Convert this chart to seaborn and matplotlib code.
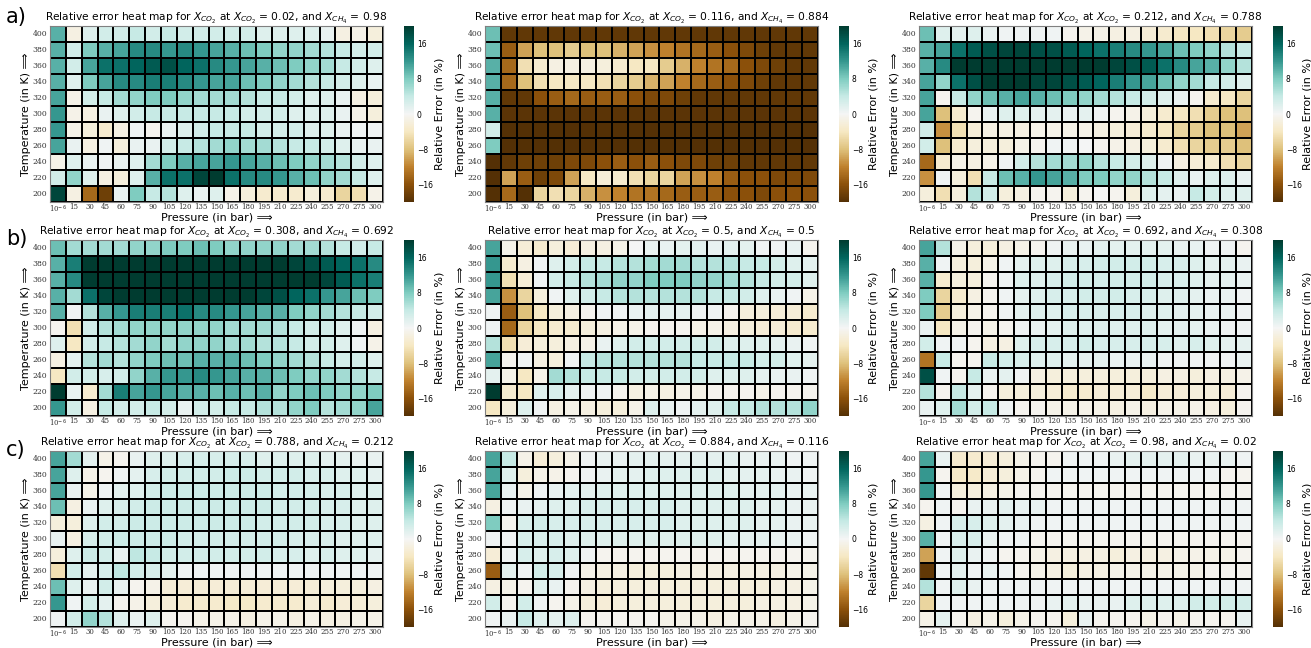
import numpy as np
import pandas as pd
import seaborn as sns
import matplotlib.pyplot as plt

# axes of every heat map
temps = [400, 380, 360, 340, 320, 300, 280, 260, 240, 220, 200]
pressures = ['10$^{-6}$', '15', '30', '45', '60', '75', '90', '105', '120', '135', '150',
             '165', '180', '195', '210', '225', '240', '255', '270', '275', '300']
x_co2 = ['0.02', '0.116', '0.212', '0.308', '0.5', '0.692', '0.788', '0.884', '0.98']
x_ch4 = ['0.98', '0.884', '0.788', '0.692', '0.5', '0.308', '0.212', '0.116', '0.02']

# relative error (%), rows 400 K -> 200 K
err_002 = [
    [10, -1.5, 2, 3, 3, 4, 3, 4, 3, 3, 3, 3, 3, 2, 2, 2, 2, 1, -1.5, -1, -2],
    [10, 3, 8, 10, 11, 13, 13, 12, 13, 12, 11, 10, 9, 8, 7, 7, 6, 5, 4, 3, 3],
    [10, 3, 11, 15, 15, 16, 17, 18, 16, 15, 13, 12, 11, 10, 9, 8, 7, 6, 4, 3, 2],
    [10, 2, 8, 11, 13, 13, 14, 14, 13, 12, 11, 11, 9, 8, 7, 6, 5, 4, 3, 2, 1],
    [11, -1, 3, 4, 6, 7, 8, 8, 7, 6, 6, 6, 5, 4, 4, 3, 2, 2, 1, -1.5, -2],
    [12, -1, -1.5, 1, 2, 3, 4, 4, 4, 4, 4, 4, 3, 3, 3, 2, 2, 2, 1, -1, -2],
    [12, -1, -2, -3, -1.5, 0.5, -0.5, 1, 2, 3, 4, 4, 4, 3, 3, 3, 2, 2, 1, 0.5, 0.5],
    [11, 1, -1.5, 0.5, -2, 1, 1, 3, 4, 5, 6, 7, 6, 6, 5, 4, 4, 3, 2, 1, 1],
    [-1, 2, 1, 0.5, 1, 2, 6, 8, 10, 11, 11, 12, 11, 10, 9, 8, 7, 6, 5, 3, 2],
    [3, 7, 2, -1.5, -2, 2, 10, 15, 15, 19, 20, 15, 13, 13, 12, 10, 9, 7, 6, 4, 2],
    [19, -1.5, -14, -18, 1, 8, 4, 5, 2, 1, 2, -1, -2, -3, -3, -3, -2, -3, -6, -5, -1],
]
err_0116 = [
    [9, -19, -19, -19, -19, -19, -19, -19, -19, -19, -19, -19, -19, -19, -19, -19, -19, -19, -19, -19, -19],
    [9, -15, -10, -8, -8, -7, -8, -8, -9, -10, -11, -12, -13, -14, -15, -16, -17, -18, -19, -19, -19],
    [10, -14, -5, -3, -1.5, -1.5, -1.5, -2, -3, -4, -4, -7, -9, -12, -13, -14, -16, -17, -18, -19, -19],
    [10, -14, -8, -5, -4, -4, -4, -5, -6, -7, -9, -10, -12, -14, -15, -16, -17, -18, -19, -19, -19],
    [10, -19, -19, -16, -15, -14, -15, -15, -15, -16, -17, -17, -18, -19, -19, -19, -19, -19, -19, -19, -19],
    [10, -19.5, -19.5, -19.5, -19.5, -19.5, -19.5, -19.5, -19.5, -19.5, -19.5, -19.5, -19.5, -19.5, -19.5, -19.5, -19.5, -19.5, -19.5, -19.5, -19.5],
    [3, -20, -20, -20, -20, -20, -20, -20, -20, -20, -20, -20, -20, -20, -20, -20, -20, -20, -20, -20, -20],
    [8, -20, -20, -20, -20, -20, -20, -20, -20, -20, -20, -20, -20, -20, -20, -20, -20, -20, -20, -20, -20],
    [-20, -19, -18, -18, -18, -17, -17, -16, -15, -16, -15, -16, -17, -17, -18, -18, -19, -19, -19, -19, -19],
    [-20, -10, -15, -18, -17, -10, -4, -2.5, -3, -5, -6, -6, -10, -11, -12, -15, -16, -16, -17, -17, -17],
    [-20, -14, -20, -6, -5, -6, -9, -11, -12, -13, -13, -14, -15, -15, -15, -16, -16, -17, -16, -16, -16],
]
err_0212 = [
    [9, 2, 1.5, 2, 1, 0.5, 0.5, 0.5, 0.5, -0.5, -1, -1, -1.5, -1.5, -2.5, -3, -4, -4, -5, -6, -7],
    [10, 11, 15, 17, 18, 19, 19, 18, 18, 17, 16, 15, 14, 13, 12, 11, 9, 8, 7, 5, 4],
    [10, 13, 20, 20, 20, 20, 20, 20, 20, 20, 20, 20, 19, 18, 17, 15, 13, 11, 10, 7, 5],
    [11, 7, 15, 18, 20, 20, 20, 19, 19, 18, 17, 16, 14, 12, 11, 9, 7, 6, 4, 3, 2],
    [11, -0.5, 4, 7, 9, 10, 11, 10, 9, 8, 7, 6, 5, 4, 3, 2, 1, -0.5, -3, -4, -6],
    [11, -8, -3, -0.5, 1, 2, 2, 1.5, 1.5, 1, 1.5, 0.5, -0.5, -1, -2, -3, -4, -5, -7, -8, -8],
    [3, -11, -5, -2.5, -1.5, -1.5, -1.5, -1, -1, -1, -1, -1.5, -2, -2.5, -3, -4, -6, -7, -8, -8, -10],
    [3, -8, -3, -2, -2, -2, -1, -0.5, 0.5, 0.5, 0, -0.5, -1, -1.5, -2, -3, -5, -6, -7, -7, -8],
    [-14, -3, -1, -1.5, -1, 0.5, 3, 5, 6, 6, 7, 5, 4, 3, 2, 0.5, -1.5, -2.5, -3, -5, -6],
    [-11, 0.5, -2, -5, 4, 9, 10, 12, 11, 10, 8, 8, 7, 7, 5, 4, 2, 1, 2, 2, 1],
    [-2, -5, -2, 5, 3, -2, -1.5, -0.5, -0.5, -2, -0.5, 0, -0.5, -2, 2, 1.5, 1, 4, 3, 2, 2],
]
err_0308 = [
    [9, 6, 6, 6, 6, 7, 7, 8, 8, 9, 8, 7, 7, 7, 7, 6, 6, 5, 4, 3, 4],
    [10, 14, 20, 20, 20, 20, 20, 20, 20, 20, 20, 20, 20, 20, 20, 19, 18, 17, 16, 15, 13],
    [10, 13, 20, 20, 20, 20, 20, 20, 20, 20, 20, 20, 20, 20, 20, 20, 20, 19, 17, 15, 14],
    [10, 6, 15, 19, 20, 20, 20, 20, 20, 20, 20, 20, 20, 19, 18, 16, 15, 12, 11, 9, 8],
    [10, 0.5, 5, 10, 12, 14, 14, 14, 15, 13, 13, 12, 11, 10, 10, 8, 7, 6, 5, 4, 3],
    [-0.5, -5, 3, 5, 6, 7, 7, 7, 7, 7, 7, 6, 6, 6, 5, 4, 3, 3, 2, 0.5, -1.5],
    [2, -4, 3, 4, 5, 6, 7, 6, 7, 7, 7, 6, 6, 5, 5, 4, 3, 3, 2, 0.5, -1],
    [-1.5, 1.5, 5, 6, 5, 7, 8, 9, 9, 10, 10, 10, 9, 8, 7, 6, 5, 4, 3, 3, 2],
    [-4, 3, 3, 2.5, 3, 7, 10, 12, 12, 13, 12, 11, 10, 10, 9, 8, 7, 7, 6, 5, 4],
    [20, 1, -3, 6, 14, 11, 12, 11, 10, 10, 9, 10, 9, 10, 7, 8, 9, 8, 7, 7, 8],
    [12, 3, -1.5, 4, 3, 3, 4, 3, 1, 3, 3, 4, 4, 5, 5, 7, 8, 5, 6, 7, 11],
]
err_05 = [
    [11, -1, -2.5, -3, -2, -2.5, -1.5, -1.5, -1, 0, 1, 1, 1.5, 1.5, 1, 1.5, 1.5, 0.5, 0.5, 1, -0.5],
    [12, -3, -1.5, 0.5, 2, 3, 4, 4, 5, 5, 6, 6, 6, 5, 5, 5, 4, 4, 3, 2, 1.5],
    [12, -5, -2.5, 0.5, 3, 4, 5, 6, 7, 7, 8, 8, 8, 7, 7, 6, 5, 4, 3, 3, 2],
    [11, -11, -6, -2, 0.5, 2, 3, 4, 5, 5, 5, 5, 5, 5, 4, 4, 3, 2, 1, 0.5, -1],
    [0.5, -15, -8, -4, -2, -1.5, -0.5, 0.5, 0.5, 1, 1.5, 1.5, 1.5, 0.5, 0.5, -0.5, -2, -2, -2.5, -2.5, -3],
    [0.5, -14, -6, -4, -3, -3, -2, -1.5, -1, -1, -0.5, -0.5, -0.5, -1, -1, -1.5, -2, -2.5, -2.5, -3, -3],
    [5, -5, -2.5, -2, -2, -1.5, -1, 1, 2, 3, 3, 3, 3, 3, 3, 2, 2, 2, 1.5, 1, 0.5],
    [11, -0.5, 0.5, -1.5, -2, 0.5, 4, 5, 5, 5, 5, 5, 5, 4, 4, 4, 4, 3, 3, 2, 1.5],
    [1.5, -1, -4, -1, 6, 5, 4, 4, 4, 3, 3, 3, 3, 3, 2, 2, 2, 1.5, 1, 1, 0.5],
    [20, -3, -4, 2, 2.5, 1.5, 0.5, 0.5, -0.5, -1.5, -1, -1.5, -1, -1, -0.5, -0.5, -0.5, -1, -0.5, -0.5, -0.5],
    [-4, -2, 2, 0.5, -1.5, -1, -1.5, -2, -2, -1, 2, 1, 0.5, 1.5, 2, 4, 4, 5, 5, 5, 7],
]
err_0692 = [
    [11, 5, -1, -2, -2, -1.5, -1, -0.5, 0.5, 1, 1, 1.5, 1.5, 1.5, 1.5, 1.5, 1, 1, 0.5, 0.5, -0.5],
    [10, 0.5, -2, -2, -1, 0.5, 1.5, 2, 2, 2.5, 2.5, 3, 3, 3, 3, 2.5, 2.5, 2, 1.5, 1.5, 1],
    [10, -3, -2, -2, -0.5, 0.5, 2, 2, 2.5, 3, 3, 3, 3, 3, 3, 2.5, 2.5, 2, 1.5, 1.5, 1],
    [8, -6, -3, -1.5, -0.5, 0.5, 1.5, 2, 2.5, 2.5, 3, 3, 3, 2.5, 2.5, 2, 2, 1.5, 1, 1, 0.5],
    [8, -7, -2, -1, -0.5, 0.5, 1.5, 2, 2, 2.5, 2.5, 2.5, 2.5, 2.5, 2, 2, 1.5, 1.5, 1, 1, 0.5],
    [1, -4, -1, -0.5, -1, -0.5, 0.5, 1, 1.5, 2, 2, 2, 2, 2, 2, 1.5, 1.5, 1.5, 1, 0.5, 0.5],
    [3, 0.5, 0.5, -0.5, -1.5, -1.5, 2, 2.5, 2.5, 2.5, 3, 2.5, 2.5, 2.5, 2.5, 2.5, 2, 2.5, 2, 1.5, 1.5],
    [-13, 4, -0.5, -0.5, 4, 3, 2.5, 2, 2, 1.5, 1.5, 1.5, 1, 1, 1, 0.5, 0.5, 0.5, 0.5, 0.5, 1],
    [18, 0.5, -0.5, 4, 1, 1.5, 0.5, -1.5, -2, -2, -2, -2, -2, -2, -2, -1.5, -1.5, -2, -1.5, -1.5, -1],
    [5, -0.5, 4, 1.5, -0.5, -2, -2, -2, -2.5, -3, -3, -2.5, -2.5, -2.5, -3.5, -2.5, -2.5, -2, -2, -2.5, -0.5],
    [1, 2, 6, 3, 4, 0.5, -0.5, -0.5, -1, -1, -1, -1, -1.5, -1, -1.5, -1, -1, -1, -1.5, -2, -0.5],
]
err_0788 = [
    [11, 6, 1.5, -1, -0.5, 1, 2, 2, 2.5, 2.5, 2.5, 2.5, 2.5, 2, 2, 2, 2, 1.5, 1.5, 1, 1],
    [11, 2, -1, -0.5, 0.5, 1.5, 2.5, 3, 3, 3, 3, 3.5, 3.5, 3, 3, 3, 2.5, 2.5, 2, 2, 1.5],
    [11, 1, -1, 0.5, 1.5, 2, 3, 3.5, 3.5, 3.5, 3.5, 3.5, 3.5, 3.5, 3, 3, 3, 2.5, 2.5, 2, 2],
    [9, -1.5, 1, 2, 2.5, 3, 3.5, 3.5, 3.5, 3.5, 3.5, 3.5, 3.5, 3.5, 3, 3, 3, 2.5, 2.5, 2, 2],
    [-2, -2, 2, 3, 3, 3.5, 3.5, 3.5, 3.5, 3.5, 3.5, 3.5, 3.5, 3, 3, 3, 3, 2.5, 2.5, 2, 2],
    [1, -1.5, 2.5, 3, 3.5, 3.5, 3.5, 3.5, 3, 3, 3, 3, 3, 3, 3, 2.5, 2.5, 2.5, 2, 2, 2],
    [-2, 2, 3.5, 3, 1, 4.5, 4, 3, 3, 3, 3, 3, 3, 3, 2.5, 2.5, 2, 2.5, 2, 2, 1.5],
    [-5, 3, 1.5, 2.5, 4.5, 3, 2.5, 1.5, 0.5, 0.5, 0.5, 0.5, 0.5, 0.5, 0.5, 0.5, 0.5, 0.5, 0.5, 0.5, 0.5],
    [9, 2, 1, 3, 1, -0.5, -1, -2.5, -2.5, -2.5, -2.5, -2.5, -2.5, -2.5, -2.5, -2.5, -2.5, -2, -2, -2, -1.5],
    [12, 0.5, 3, 1.5, -0.5, -1, -2, -2.5, -3, -3, -3, -3.5, -3.5, -3, -3, -3, -2.5, -3, -2.5, -2.5, -2],
    [0.5, 3, 7, 5, 2, 1, 2, -0.5, -0.5, -1, -1, -1, -1.5, -1, -1, -1.5, -1, -1.5, -1.5, -1, -1],
]
err_0884 = [
    [11, 4, -1, -2.5, -2, -1, 0.5, 1, 1, 1.5, 1.5, 1.5, 1.5, 1.5, 1.5, 1.5, 1, 1, 1, 0.5, 0.5],
    [11, 2, -2, -1, -1, -0.5, 0.5, 1, 1.5, 1.5, 2, 2, 2, 2, 2, 1.5, 1.5, 1.5, 1, 1, 0.5],
    [11, 1, -1, 0.5, 1, 1.5, 1.5, 2, 2, 2, 2, 2, 2, 2, 2, 2, 1.5, 1.5, 1.5, 1, 1],
    [-1.5, 0.5, 1, 1.5, 2, 2, 2.5, 2.5, 2.5, 2.5, 2.5, 2.5, 2, 2, 2, 2, 2, 1.5, 1.5, 1, 1],
    [8, -0.5, 2.5, 3, 2.5, 2.5, 2.5, 2.5, 2.5, 2.5, 2.5, 2.5, 2, 2, 2, 2, 2, 1.5, 1.5, 1, 1],
    [0.5, 0.5, 2.5, 2.5, 2.5, 2, 2, 2, 2, 2, 2, 2, 2, 2, 2, 1.5, 1.5, 1.5, 1, 1, 0.5],
    [-2.5, 0.5, 2.5, 2, 2.5, 2, 0.5, -0.5, -0.5, -0.5, -0.5, -0.5, -0.5, -0.5, -0.5, -0.5, -0.5, -0.5, -0.5, -0.5, -0.5],
    [-15, 1.5, 0.5, 3, 2.5, 0.5, -1, -1.5, -1.5, -2, -2, -2, -1.5, -1.5, -1.5, -1.5, -1.5, -1.5, -1.5, -1, -1],
    [-1.5, -1, -0.5, 2, 1, -0.5, -1.5, -2, -2, -2, -2, -2, -2, -2, -2, -2, -2, -2, -1.5, -1.5, -1],
    [3, -0.5, 3, 0.5, -0.5, -1, -2, -2.5, -2, -2, -2, -2, -2, -2, -2, -2, -2, -1.5, -1.5, -1.5, -1],
    [0.5, 1, 4, 2, 1.5, 2, -0.5, -0.5, -0.5, -0.5, -0.5, -1, -1, -1, -1.5, -1, -1, -1, -1.5, -1, -0.5],
]
err_098 = [
    [11, 1, -3, -3, -2.5, -2, -1, -0.5, -0.5, 0.5, 0.5, 0.5, 1, 1.5, 1.5, 1.5, 1.5, 1, 1, 1, 0.5],
    [12, -0.5, -3.5, -3.5, -2.5, -2, -1, -0.5, 0.5, 0.5, 0.5, 0.5, 0.5, 0.5, 0.5, 0.5, 0.5, 0.5, 0.5, -0.5, -0.5],
    [12, 0.5, -2, -2, -1.5, -1, -0.5, -0.5, -0.5, -0.5, -0.5, -0.5, -0.5, -0.5, -0.5, -0.5, -0.5, -0.5, -0.5, -0.5, -0.5],
    [-0.5, 0.5, -0.5, 1, 1, 1.5, 1, 1, 0.5, 0.5, 0.5, 0.5, 0.5, 0.5, 0.5, 0.5, 0.5, 0.5, 0.5, 0.5, 0.5],
    [-1.5, 0.5, 2.5, 2.5, 2, 1.5, 1, 0.5, 0.5, 0.5, 0.5, 0.5, 0.5, 0.5, 0.5, 0.5, 0.5, 0.5, 0.5, 0.5, 0.5],
    [10, 0.5, 2.5, 2.5, 1, 0.5, 0.5, -0.5, -0.5, -0.5, -0.5, -0.5, -0.5, -0.5, -0.5, -0.5, -0.5, -0.5, -0.5, -0.5, -0.5],
    [-10, 0.5, 2, 1, 0.5, -0.5, -0.5, -1, -1.5, -1.5, -1.5, -1.5, -2, -1.5, -1.5, -1.5, -1, -1, -1, -1, -0.5],
    [-19, 0.5, 1.5, 0.5, 1, 0.5, -0.5, -1, -1.5, -2, -1.5, -1.5, -1, -1, -1, -1, -1, -1, -0.5, -0.5, -0.5],
    [5, 0.5, 2, 1, 0.5, 0.5, 0.5, 0.5, 0.5, 0.5, 0.5, 0.5, 0.5, 0.5, 0.5, 0.5, 0.5, 0.5, 0.5, 0.5, 0.5],
    [-6, 0.5, 0.5, 0.5, 0.5, 0.5, 0.5, 0.5, 1, 1.5, 1, 1, 1, 2, 2, 2, 2, 3, 3, 3, 3],
    [-1, 1.5, -0.5, -1.5, -1, -2, -1, -0.5, -0.5, -2, 1, -0.5, -0.5, -0.5, -1, -0.5, -1, -0.5, -0.5, -0.5, 1],
]

panels = [err_002, err_0116, err_0212, err_0308, err_05, err_0692, err_0788, err_0884, err_098]

W, H = 1311, 648
fig = plt.figure(figsize=(W / 100, H / 100), dpi=100)

# pixel layout of the 3x3 grid
col_left = [50, 485, 919]
cbar_left = [404, 839, 1273]
row_top = [26, 240, 451]
hm_w, hm_h = 333, 176

for i, data in enumerate(panels):
    r, c = divmod(i, 3)
    ax = fig.add_axes([col_left[c] / W, 1 - (row_top[r] + hm_h) / H, hm_w / W, hm_h / H])
    cax = fig.add_axes([cbar_left[c] / W, 1 - (row_top[r] + hm_h) / H, 10 / W, hm_h / H])
    df = pd.DataFrame(data, index=temps, columns=pressures)
    sns.heatmap(df, ax=ax, cbar_ax=cax, cmap='BrBG', vmin=-20, vmax=20,
                linewidths=1.1, linecolor='black',
                cbar_kws={'ticks': [-16, -8, 0, 8, 16]})
    ax.set_title(f'Relative error heat map for $X_{{CO_2}}$ at $X_{{CO_2}}$ = {x_co2[i]}, '
                 f'and $X_{{CH_4}}$ = {x_ch4[i]}', fontsize=7.7, pad=2)
    ax.set_xlabel('Pressure (in bar) \u27f9', fontsize=8, labelpad=-1.5)
    ax.set_ylabel('Temperature (in K) \u27f9', fontsize=8, labelpad=1)
    ax.tick_params(axis='x', labelsize=5, rotation=0, length=0, pad=1)
    ax.tick_params(axis='y', labelsize=5.5, rotation=0, length=0, pad=2)
    for lbl in ax.get_xticklabels() + ax.get_yticklabels():
        lbl.set_family('DejaVu Serif')
        lbl.set_color('#333333')
    for sp in ax.spines.values():
        sp.set_visible(True)
        sp.set_color('gray')
    cax.tick_params(labelsize=5.5, length=0, pad=2)
    cax.set_ylabel('Relative Error (in %)', fontsize=8)
    cax.yaxis.set_label_coords(3.0, 0.5)
    cbar = ax.collections[0].colorbar
    if cbar is not None:
        cbar.outline.set_visible(False)

for lab, y in zip(['a)', 'b)', 'c)'], [7, 229, 440]):
    fig.text(6 / W, 1 - y / H, lab, fontsize=15, va='top', ha='left')

fig.savefig('out.png', dpi=100)
